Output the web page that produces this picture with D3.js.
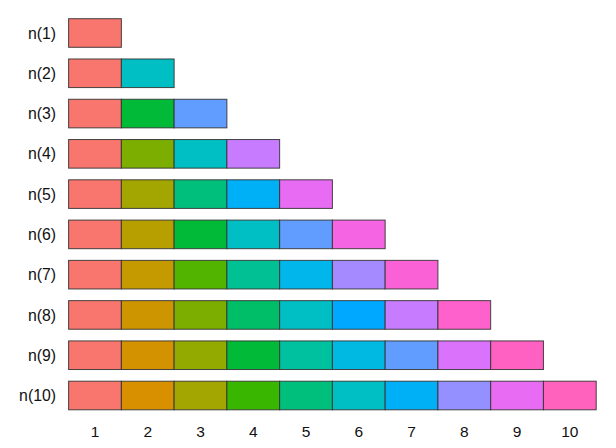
<!DOCTYPE html>
<html><head><meta charset="utf-8">
<script src="https://cdn.jsdelivr.net/npm/d3@7"></script>
<style>body{margin:0;background:#fff}svg{display:block}</style>
</head><body>
<script>
const rowLabels = ["n(1)","n(2)","n(3)","n(4)","n(5)","n(6)","n(7)","n(8)","n(9)","n(10)"];
const xTicks = [1,2,3,4,5,6,7,8,9,10];
const palettes = [
 ["#F8766D"],
 ["#F8766D","#00BFC4"],
 ["#F8766D","#00BA38","#619CFF"],
 ["#F8766D","#7CAE00","#00BFC4","#C77CFF"],
 ["#F8766D","#A3A500","#00BF7D","#00B0F6","#E76BF3"],
 ["#F8766D","#B79F00","#00BA38","#00BFC4","#619CFF","#F564E3"],
 ["#F8766D","#C49A00","#53B400","#00C094","#00B6EB","#A58AFF","#FB61D7"],
 ["#F8766D","#CD9600","#7CAE00","#00BE67","#00BFC4","#00A9FF","#C77CFF","#FF61CC"],
 ["#F8766D","#D39200","#93AA00","#00BA38","#00C19F","#00B9E3","#619CFF","#DB72FB","#FF61C3"],
 ["#F8766D","#D89000","#A3A500","#39B600","#00BF7D","#00BFC4","#00B0F6","#9590FF","#E76BF3","#FF62BC"]
];

const W = 616, H = 448;
const svg = d3.select("body").append("svg").attr("width", W).attr("height", H);
const x = d3.scaleLinear().domain([0.5, 10.5]).range([68.6, 596.2]);
const y = d3.scaleLinear().domain([1, 10]).range([33, 395.5]);
const step = y(2) - y(1);
const th = step * 0.71;

const cells = [];
palettes.forEach((p, i) => p.forEach((c, j) => cells.push({row: i + 1, col: j + 1, color: c})));

svg.append("g").selectAll("rect").data(cells).join("rect")
  .attr("x", d => x(d.col - 0.5))
  .attr("width", d => x(d.col + 0.5) - x(d.col - 0.5))
  .attr("y", d => y(d.row) - th / 2)
  .attr("height", th)
  .attr("fill", d => d.color)
  .attr("stroke", "#333")
  .attr("stroke-opacity", 0.9)
  .attr("stroke-width", 1);

const font = "'Liberation Sans', Arial, sans-serif";
svg.append("g").selectAll("text").data(rowLabels).join("text")
  .attr("x", 56)
  .attr("y", (d, i) => y(i + 1) + 5.6)
  .attr("text-anchor", "end")
  .attr("font-family", font)
  .attr("font-size", 15.8)
  .attr("fill", "#111")
  .text(d => d);

svg.append("g").selectAll("text").data(xTicks).join("text")
  .attr("x", d => x(d))
  .attr("y", 437)
  .attr("text-anchor", "middle")
  .attr("font-family", font)
  .attr("font-size", 15.5)
  .attr("fill", "#111")
  .text(d => d);
</script>
</body></html>
